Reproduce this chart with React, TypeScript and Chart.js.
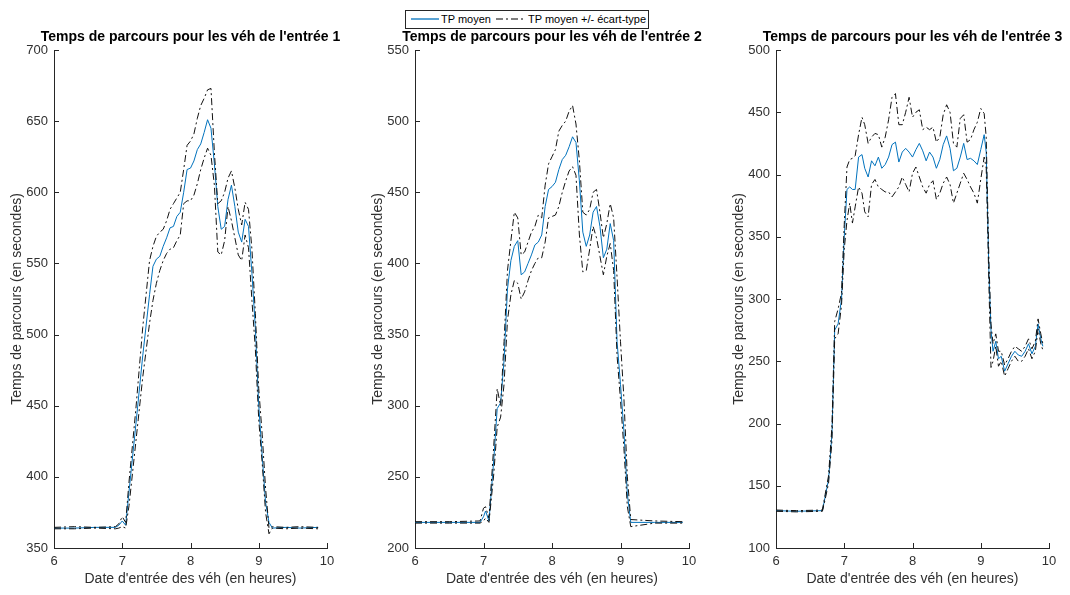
import React, { useEffect, useRef } from 'react';
import { Chart, registerables } from 'chart.js';

Chart.register(...registerables);

// ---------- data ----------
const seriesLabels = ['TP moyen', 'TP moyen +/- écart-type'];
const panelTitles = [
  "Temps de parcours pour les véh de l'entrée 1",
  "Temps de parcours pour les véh de l'entrée 2",
  "Temps de parcours pour les véh de l'entrée 3",
];
const xLabel = "Date d'entrée des véh (en heures)";
const yLabel = 'Temps de parcours (en secondes)';
const xRange = [6, 10];
const yMins = [350, 200, 100];
const yMaxs = [700, 550, 500];

const hours1 = [6.0, 6.3, 6.6, 6.9, 6.95, 7.0, 7.05, 7.1, 7.2, 7.3, 7.4, 7.45, 7.5, 7.55, 7.6, 7.65, 7.7, 7.75, 7.8, 7.85, 7.9, 7.95, 8.0, 8.05, 8.1, 8.15, 8.2, 8.25, 8.3, 8.35, 8.4, 8.45, 8.5, 8.55, 8.6, 8.65, 8.7, 8.75, 8.8, 8.85, 8.9, 8.95, 9.0, 9.05, 9.1, 9.15, 9.2, 9.4, 9.6, 9.87];
const mean1 = [364, 364, 364.5, 364.5, 366, 369, 366, 390, 437, 485, 528, 548, 553, 555, 562, 568, 575, 576, 583, 586, 600, 616, 617, 622, 630, 634, 642, 651, 645, 620, 590, 574, 576, 595, 605, 590, 572, 565, 581, 576, 543, 505, 450, 415, 382, 368, 364, 364.5, 364, 364.5];
const upper1 = [364.5, 365, 364.5, 365, 367, 372, 368, 397, 448, 505, 552, 562, 569, 572, 574, 580, 588, 592, 596, 600, 616, 633, 636, 641, 652, 661, 666, 672, 673, 628, 592, 594, 600, 610, 615, 603, 588, 577, 593, 588, 560, 515, 462, 430, 392, 364, 365, 364.5, 365, 364.5];
const lower1 = [363.5, 363.5, 364, 363.5, 364, 365, 364, 380, 425, 470, 508, 524, 536, 545, 552, 557, 560, 561, 566, 570, 592, 594, 594, 598, 606, 616, 624, 631, 626, 605, 558, 556, 566, 590, 580, 568, 556, 552, 570, 561, 524, 490, 440, 410, 375, 360, 364, 363.5, 364, 363.5];

const hours2 = [6.0, 6.5, 6.95, 7.0, 7.03, 7.08, 7.15, 7.2, 7.25, 7.3, 7.35, 7.4, 7.45, 7.5, 7.55, 7.6, 7.65, 7.7, 7.75, 7.8, 7.85, 7.9, 7.95, 8.0, 8.05, 8.1, 8.15, 8.2, 8.25, 8.3, 8.35, 8.4, 8.45, 8.5, 8.55, 8.6, 8.65, 8.7, 8.75, 8.8, 8.85, 8.9, 8.95, 9.0, 9.05, 9.1, 9.15, 9.5, 9.91];
const mean2 = [218, 218, 218, 222, 226, 219, 262, 298, 302, 332, 382, 402, 412, 416, 392, 394, 400, 406, 413, 415, 420, 440, 452, 454, 457, 466, 473, 476, 482, 489, 485, 458, 422, 412, 420, 436, 440, 426, 404, 410, 428, 416, 345, 315, 282, 238, 218, 218, 218];
const upper2 = [218.5, 218.5, 219, 228, 229, 221, 272, 312, 300, 345, 395, 416, 436, 432, 406, 408, 415, 422, 426, 434, 432, 455, 470, 475, 480, 493, 497, 500, 507, 511, 498, 472, 436, 434, 438, 450, 452, 436, 418, 428, 442, 432, 390, 345, 305, 250, 220, 219, 218.5];
const lower2 = [217.5, 217.5, 217.5, 219, 221, 218, 252, 285, 292, 315, 360, 378, 388, 386, 375, 380, 388, 395, 400, 404, 404, 415, 432, 433, 434, 440, 450, 458, 465, 468, 462, 420, 394, 395, 410, 426, 418, 405, 392, 405, 414, 395, 335, 304, 270, 229, 215, 217.5, 217.5];

const hours3 = [6.0, 6.3, 6.68, 6.72, 6.77, 6.82, 6.86, 6.91, 6.96, 7.0, 7.04, 7.08, 7.12, 7.16, 7.21, 7.26, 7.3, 7.35, 7.4, 7.45, 7.5, 7.55, 7.6, 7.65, 7.7, 7.75, 7.8, 7.85, 7.9, 7.95, 8.0, 8.05, 8.1, 8.15, 8.2, 8.25, 8.3, 8.35, 8.4, 8.45, 8.5, 8.55, 8.6, 8.65, 8.7, 8.75, 8.8, 8.85, 8.9, 8.95, 9.0, 9.05, 9.08, 9.1, 9.12, 9.15, 9.18, 9.22, 9.26, 9.3, 9.35, 9.4, 9.45, 9.5, 9.55, 9.6, 9.65, 9.7, 9.75, 9.8, 9.84, 9.88, 9.91];
const mean3 = [130, 129.5, 130, 141, 155, 192, 275, 280, 300, 350, 388, 390, 388, 388, 414, 416, 405, 398, 411, 407, 414, 405, 408, 414, 424, 426, 410, 418, 421, 418, 414, 420, 425, 419, 411, 418, 414, 405, 412, 424, 431, 421, 403, 405, 414, 425, 412, 413, 411, 408, 420, 432, 418, 370, 320, 275, 258, 266, 252, 254, 242, 248, 254, 258, 255, 254, 258, 264, 256, 262, 280, 268, 262];
const upper3 = [130.5, 130, 130.5, 143, 158, 198, 282, 292, 305, 360, 406, 412, 413, 415, 432, 446, 440, 425, 430, 433, 432, 422, 430, 444, 462, 465, 440, 440, 450, 462, 446, 450, 452, 436, 438, 436, 438, 426, 430, 448, 456, 450, 425, 422, 445, 448, 426, 428, 436, 442, 453, 449, 430, 380, 330, 280, 264, 272, 258, 258, 247, 252, 258, 262, 260, 258, 262, 268, 260, 266, 284, 272, 264];
const lower3 = [129.5, 129, 129.5, 139, 152, 186, 268, 272, 295, 340, 363, 377, 361, 374, 390, 385, 370, 366, 392, 396, 390, 388, 386, 386, 382, 386, 390, 398, 392, 386, 401, 406, 398, 390, 385, 392, 395, 380, 385, 393, 398, 392, 377, 385, 393, 401, 396, 390, 385, 377, 396, 414, 405, 360, 310, 245, 250, 262, 246, 250, 238, 244, 250, 254, 250, 250, 254, 260, 252, 258, 276, 264, 259];

const panels = [
  { hours: hours1, mean: mean1, upper: upper1, lower: lower1 },
  { hours: hours2, mean: mean2, upper: upper2, lower: lower2 },
  { hours: hours3, mean: mean3, upper: upper3, lower: lower3 },
];

// ---------- style ----------
const FONT = '"Liberation Sans", Arial, Helvetica, sans-serif';
const AXIS = '#262626';
const TEXT = '#303030';
const BLUE = '#0072BD';
const DASHDOT = [7, 3, 2, 3];
const canvasLefts = [0, 361, 722];
const Y_AXIS_W = 54;
const X_AXIS_H = 47;
const CANVAS_TOP = 28;
const CANVAS_H = 567;

const inwardTicks = {
  id: 'inwardTicks',
  afterDatasetsDraw(chart: any) {
    const { ctx, chartArea, scales } = chart;
    ctx.save();
    ctx.strokeStyle = AXIS;
    ctx.lineWidth = 1;
    ctx.beginPath();
    scales.x.ticks.forEach((t: any) => {
      const px = Math.round(scales.x.getPixelForValue(t.value)) + 0.5;
      ctx.moveTo(px, chartArea.bottom);
      ctx.lineTo(px, chartArea.bottom - 5);
    });
    scales.y.ticks.forEach((t: any) => {
      const py = Math.round(scales.y.getPixelForValue(t.value)) + 0.5;
      ctx.moveTo(chartArea.left, py);
      ctx.lineTo(chartArea.left + 5, py);
    });
    ctx.stroke();
    ctx.restore();
  },
};

const panelTitle = {
  id: 'panelTitle',
  afterDraw(chart: any, _args: any, opts: any) {
    const { ctx, chartArea } = chart;
    ctx.save();
    ctx.font = `bold 14px ${FONT}`;
    ctx.fillStyle = '#000';
    ctx.textAlign = 'center';
    ctx.textBaseline = 'middle';
    ctx.fillText(opts.text, (chartArea.left + chartArea.right) / 2, chartArea.top - 12.5);
    ctx.restore();
  },
};

function Panel({ index }: { index: number }) {
  const ref = useRef<HTMLCanvasElement>(null);
  useEffect(() => {
    const p = panels[index];
    const pts = (ys: number[]) => p.hours.map((h, i) => ({ x: h, y: ys[i] }));
    const chart = new Chart(ref.current as HTMLCanvasElement, {
      type: 'line',
      data: {
        datasets: [
          { label: seriesLabels[1], data: pts(p.upper), borderColor: '#111', borderWidth: 1, borderDash: DASHDOT, pointRadius: 0, fill: false, tension: 0 },
          { label: seriesLabels[1], data: pts(p.lower), borderColor: '#111', borderWidth: 1, borderDash: DASHDOT, pointRadius: 0, fill: false, tension: 0 },
          { label: seriesLabels[0], data: pts(p.mean), borderColor: BLUE, borderWidth: 1, pointRadius: 0, fill: false, tension: 0 },
        ],
      } as any,
      options: {
        animation: false,
        responsive: false,
        layout: { padding: { top: 22, right: 20, left: 0, bottom: 0 } },
        plugins: {
          legend: { display: false },
          tooltip: { enabled: false },
          title: { display: false },
          panelTitle: { text: panelTitles[index] },
        } as any,
        scales: {
          x: {
            type: 'linear',
            min: xRange[0],
            max: xRange[1],
            ticks: { stepSize: 1, padding: 6, color: TEXT, font: { family: FONT, size: 13 } },
            grid: { display: false, drawTicks: false },
            border: { display: true, color: AXIS, width: 1 },
            title: { display: true, text: xLabel, color: TEXT, font: { family: FONT, size: 14 }, padding: { top: 0, bottom: 7 } },
            afterFit: (s: any) => { s.height = X_AXIS_H; },
          },
          y: {
            type: 'linear',
            min: yMins[index],
            max: yMaxs[index],
            ticks: { stepSize: 50, padding: 6, color: TEXT, font: { family: FONT, size: 13 } },
            grid: { display: false, drawTicks: false },
            border: { display: true, color: AXIS, width: 1 },
            title: { display: true, text: yLabel, color: TEXT, font: { family: FONT, size: 14 }, padding: { top: 8.6, bottom: 0 } },
            afterFit: (s: any) => { s.width = Y_AXIS_W; },
          },
        },
      } as any,
      plugins: [inwardTicks, panelTitle] as any,
    });
    return () => chart.destroy();
  }, [index]);
  const width = index === 1 ? 348 : 347;
  return (
    <canvas
      ref={ref}
      width={width}
      height={CANVAS_H}
      style={{ position: 'absolute', left: canvasLefts[index], top: CANVAS_TOP, width, height: CANVAS_H }}
    />
  );
}

function Legend() {
  return (
    <div
      style={{
        position: 'absolute', left: 405, top: 10, width: 244, height: 19,
        border: `1px solid ${AXIS}`, boxSizing: 'border-box', background: '#fff',
        font: `11px ${FONT}`, color: '#000', whiteSpace: 'nowrap',
      }}
    >
      <svg width={30} height={17} style={{ position: 'absolute', left: 4, top: 0 }}>
        <line x1={1} y1={8} x2={29} y2={8} stroke={BLUE} strokeWidth={1.3} />
      </svg>
      <span style={{ position: 'absolute', left: 35, top: 2, lineHeight: '13px' }}>{seriesLabels[0]}</span>
      <svg width={32} height={17} style={{ position: 'absolute', left: 89, top: 0 }}>
        <line x1={1} y1={8} x2={31} y2={8} stroke="#000" strokeWidth={1.1} strokeDasharray={DASHDOT.join(' ')} />
      </svg>
      <span style={{ position: 'absolute', left: 122, top: 2, lineHeight: '13px' }}>{seriesLabels[1]}</span>
    </div>
  );
}

export default function App() {
  return (
    <div style={{ position: 'absolute', left: 0, top: 0, width: 1070, height: 595, background: '#fff', overflow: 'hidden' }}>
      <Legend />
      <Panel index={0} />
      <Panel index={1} />
      <Panel index={2} />
    </div>
  );
}
